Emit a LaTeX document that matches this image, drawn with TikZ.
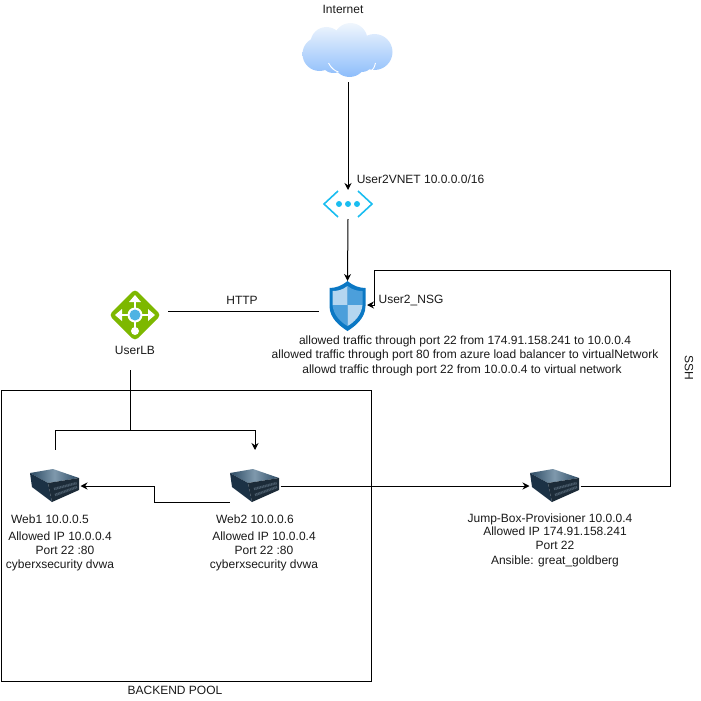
\documentclass[tikz,border=0pt]{standalone}
\usepackage{fontspec}
\setmainfont{Liberation Sans}
\usepackage{xcolor}
\usetikzlibrary{arrows.meta,calc}

\definecolor{vnetBlue}{HTML}{19BDF0}
\definecolor{shieldDark}{HTML}{0B78C4}
\definecolor{shieldMid}{HTML}{4C9FDB}
\definecolor{shieldLight}{HTML}{B5D6F0}
\definecolor{lbGreen}{HTML}{7DB800}
\definecolor{lbBlue}{HTML}{4FB3E3}
\definecolor{cloudTop}{HTML}{F0F6FD}
\definecolor{cloudBottom}{HTML}{8DBDFB}
\definecolor{serverTopA}{HTML}{7F99AD}
\definecolor{serverTopB}{HTML}{2C4A63}
\definecolor{serverLeft}{HTML}{1B3145}
\definecolor{serverRight}{HTML}{1C2B38}
\definecolor{serverGrid}{HTML}{4A5C6B}

\begin{document}
\begin{tikzpicture}[
    x=1pt, y=-1pt,
    font=\fontsize{12}{14}\selectfont,
    iconBox/.style={rectangle, inner sep=0pt, outer sep=0pt},
    serverBox/.style={iconBox, minimum width=51pt, minimum height=36pt},
    poolBox/.style={rectangle, draw=black, line width=1pt, inner sep=0pt, minimum width=370pt, minimum height=291pt},
    textLine/.style={inner sep=0pt, text=black!90},
    edgeLine/.style={line width=1pt, draw=black},
    arrowLine/.style={edgeLine, -{Stealth[length=7pt, width=7pt]}},
    cloudIcon/.pic={
        \shade[top color=cloudTop, bottom color=cloudBottom]
            (-28,4) circle[radius=17] (-21,-7) circle[radius=16] (3,-10) circle[radius=17]
            (27,2) circle[radius=18] (2,10) circle[radius=17] (-14,9) circle[radius=14] (14,8) circle[radius=14];
        \draw[white, line width=0.9pt] (-19,13) .. controls (-16,19) and (-12,21) .. (-9,22);
        \draw[white, line width=0.9pt] (28,13) .. controls (27,17) and (26,19) .. (24,21);
    },
    vnetIcon/.pic={
        \draw[vnetBlue, line width=1.6pt] (-10,-13) -- (-24,0) -- (-10,13);
        \draw[vnetBlue, line width=1.6pt] (10,-13) -- (24,0) -- (10,13);
        \foreach \dotX in {-9,0,9} {
            \fill[vnetBlue] (\dotX,0) circle[radius=3];
        }
    },
    shieldIcon/.pic={
        \fill[shieldDark] (0,-25) .. controls (6,-20) and (12,-18) .. (18,-18) -- (18,0)
            .. controls (18,12) and (8,20) .. (0,25) .. controls (-8,20) and (-18,12) .. (-18,0) -- (-18,-18)
            .. controls (-12,-18) and (-6,-20) .. (0,-25) -- cycle;
        \fill[shieldLight] (0,-20) .. controls (-5,-16) and (-10,-15) .. (-15,-15) -- (-15,-1) -- (0,-1) -- cycle;
        \fill[shieldMid] (0,-20) .. controls (5,-16) and (10,-15) .. (15,-15) -- (15,-1) -- (0,-1) -- cycle;
        \fill[shieldMid] (-15,-1) .. controls (-14,9) and (-7,16) .. (0,20) -- (0,-1) -- cycle;
        \fill[shieldLight] (15,-1) .. controls (14,9) and (7,16) .. (0,20) -- (0,-1) -- cycle;
    },
    lbIcon/.pic={
        \fill[lbGreen, rounded corners=4pt] (0,-26) -- (26,0) -- (0,26) -- (-26,0) -- cycle;
        \draw[white, line width=2.4pt] (-17,0) -- (17,0) (0,-17) -- (0,14);
        \fill[white] (0,-20) -- (-6,-13) -- (6,-13) -- cycle;
        \fill[white] (-20,0) -- (-13,-6) -- (-13,6) -- cycle;
        \fill[white] (20,0) -- (13,-6) -- (13,6) -- cycle;
        \fill[white] (0,16) circle[radius=4];
        \fill[white] (0,0) circle[radius=7.5];
        \fill[lbBlue] (0,0) circle[radius=5.5];
    },
    serverIcon/.pic={
        \shade[left color=serverTopB, right color=serverTopB, middle color=serverTopA] (-25,-13) -- (-2,-17) -- (24,-8) -- (-7,-3) -- cycle;
        \fill[serverLeft] (-25,-13) -- (-7,-3) -- (-3,16) -- (-23,1) -- cycle;
        \fill[serverRight] (-7,-3) -- (24,-8) -- (24,4) -- (-3,16) -- cycle;
        \draw[serverGrid, line width=2.5pt, dash pattern=on 1pt off 0.6pt] (-1,3) -- (22,-3);
        \draw[serverGrid, line width=2.5pt, dash pattern=on 1pt off 0.6pt] (0,9) -- (22,1);
    }
]
\useasboundingbox (0,0) rectangle (701,701);

% Backend pool frame
\node[poolBox] (pool) at (186,535.5) {};
\node[textLine] (poolLabel) at (175,690) {BACKEND POOL};

% Internet and virtual network
\node[textLine] (internetLabel) at (343,9) {Internet};
\node[iconBox, minimum width=92pt, minimum height=60pt] (cloud) at (347.5,50) {};
\pic at (cloud) {cloudIcon};
\node[iconBox, minimum width=50pt, minimum height=28pt] (vnet) at (348,204) {};
\pic at (vnet) {vnetIcon};
\node[textLine] (vnetLabel) at (420.5,179) {User2VNET 10.0.0.0/16};

% Network security group
\node[iconBox, minimum width=38pt, minimum height=50pt] (nsg) at (347.5,306) {};
\pic at (nsg) {shieldIcon};
\node[textLine] (nsgLabel) at (411,300) {User2\_NSG};
\node[textLine] (ruleA) at (465,341) {allowed traffic through port 22 from 174.91.158.241 to 10.0.0.4};
\node[textLine] (ruleB) at (465,355) {allowed traffic through port 80 from azure load balancer to virtualNetwork};
\node[textLine] (ruleC) at (462,370) {allowd traffic through port 22 from 10.0.0.4 to virtual network};

% Load balancer
\node[iconBox, minimum width=52pt, minimum height=52pt] (lb) at (135,315) {};
\pic at (lb) {lbIcon};
\node[textLine] (lbLabel) at (135,350) {UserLB};

% Web servers
\node[serverBox] (webA) at (55,486) {};
\pic at (webA) {serverIcon};
\node[textLine] (webAname) at (50,519) {Web1 10.0.0.5};
\node[textLine] (webAip) at (60,536) {Allowed IP 10.0.0.4};
\node[textLine] (webAport) at (65,550) {Port 22 :80};
\node[textLine] (webAapp) at (60,565) {cyberxsecurity dvwa};

\node[serverBox] (webB) at (255,486) {};
\pic at (webB) {serverIcon};
\node[textLine] (webBname) at (255,519) {Web2 10.0.0.6};
\node[textLine] (webBip) at (264,536) {Allowed IP 10.0.0.4};
\node[textLine] (webBport) at (264,550) {Port 22 :80};
\node[textLine] (webBapp) at (264,565) {cyberxsecurity dvwa};

% Jump box
\node[serverBox] (jump) at (555,486) {};
\pic at (jump) {serverIcon};
\node[textLine] (jumpName) at (550,519) {Jump-Box-Provisioner 10.0.0.4};
\node[textLine] (jumpIp) at (555,531) {Allowed IP 174.91.158.241};
\node[textLine] (jumpPort) at (555,545) {Port 22};
\node[textLine] (jumpApp) at (555,561) {Ansible: great\_goldberg};

% Edge labels
\node[textLine] (httpLabel) at (242,300) {HTTP};
\node[textLine, rotate=-90] (sshLabel) at (689,368) {SSH};

% Helper points
\coordinate (lbTap) at (130,370);
\coordinate (lbSplit) at (130,430);
\coordinate (webAtap) at (55,450);
\coordinate (webBtap) at (255,450);
\coordinate (nsgIn) at (367,305);

% Connectors
\draw[arrowLine] (cloud.south -| vnet.north) ++(0,2) -- (vnet.north);
\draw[arrowLine] (vnet.south) ++(0,1) -- (nsg.north);
\draw[edgeLine] (lb.east) ++(7,-4) -- ($(nsg.west)+(-10,5)$);
\draw[edgeLine] (lbTap) -- (lbSplit);
\draw[edgeLine] (lbSplit) -| (webAtap);
\draw[arrowLine] (lbSplit) -| (webBtap);
\draw[arrowLine] ($(webB.west)+(0,16)$) -- ++(-75,0) |- (webA.east);
\draw[arrowLine] (webB.east) -- (jump.west);
\draw[arrowLine] (jump.east) -- (670,486) -- (670,270) -- (374,270) |- (nsgIn);

\end{tikzpicture}
\end{document}
